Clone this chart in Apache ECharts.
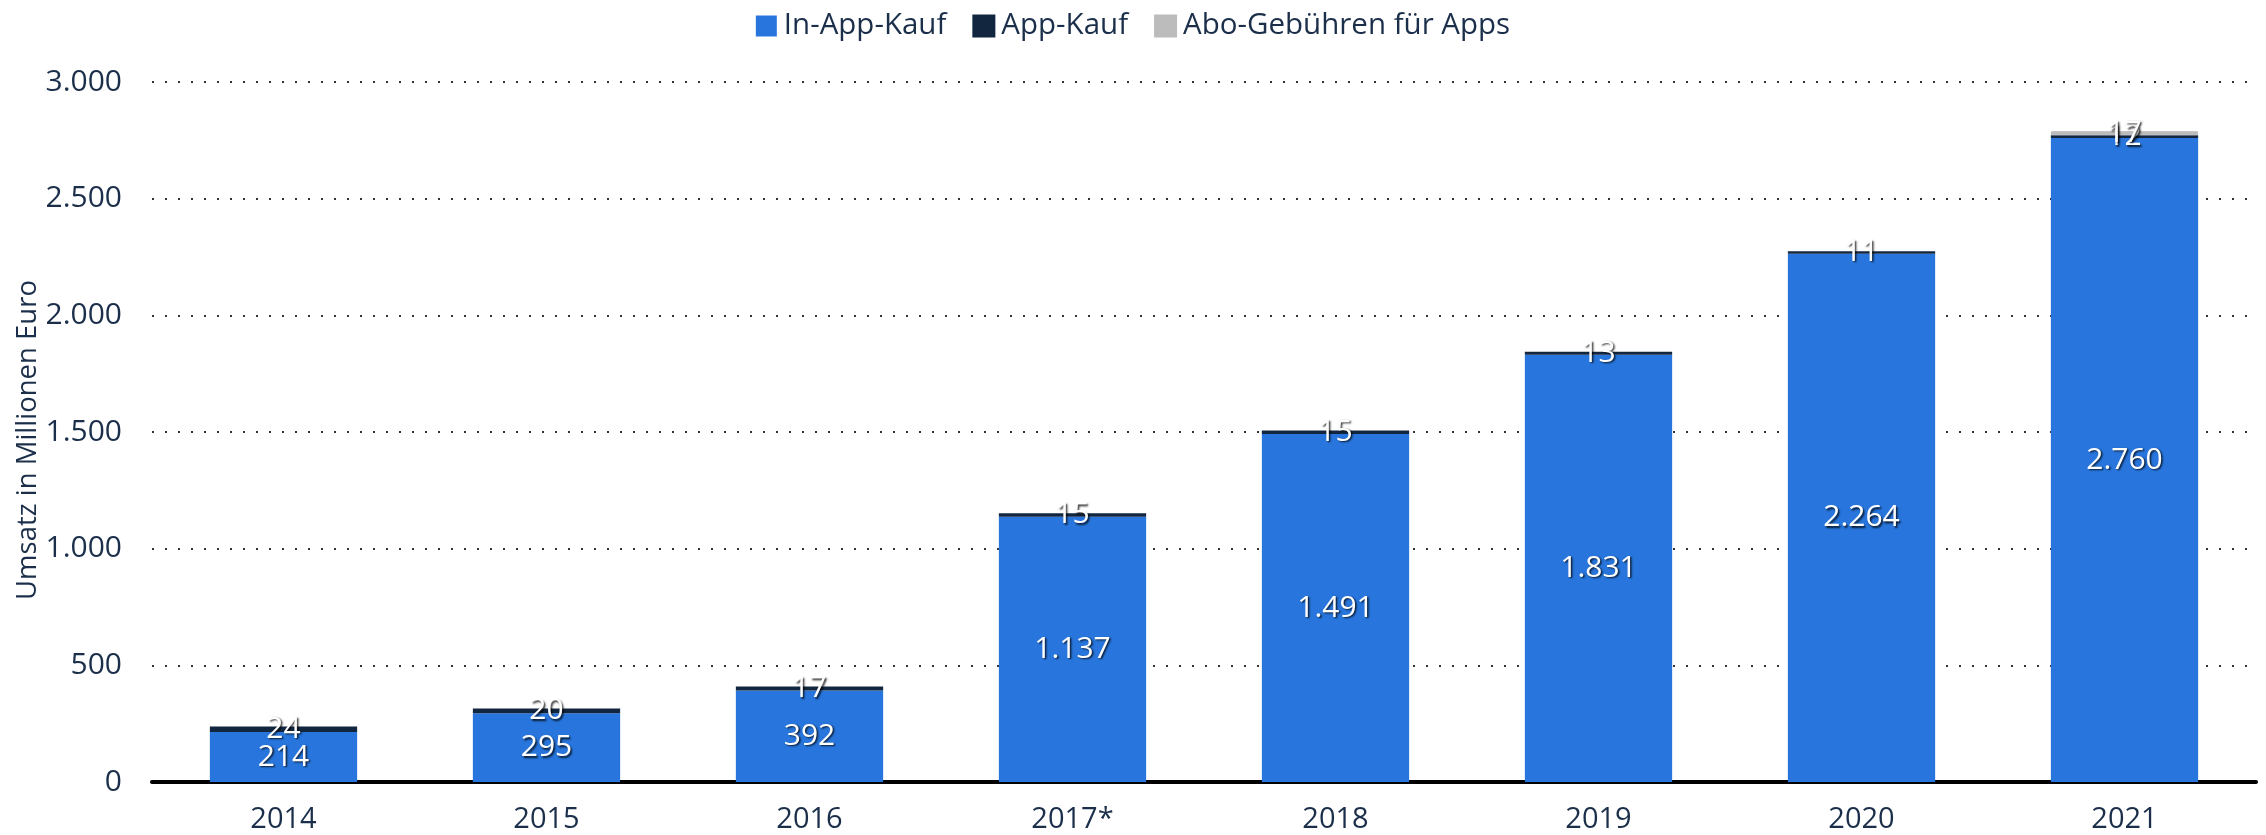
<!DOCTYPE html>
<html>
<head>
<meta charset="utf-8">
<script src="https://cdn.jsdelivr.net/npm/echarts@6/dist/echarts.min.js"></script>
<style>
  html, body { margin: 0; padding: 0; background: #fff; }
  #chart { width: 2266px; height: 835px; }
</style>
</head>
<body>
<div id="chart"></div>
<script>
// Umsatz mit Apps in Deutschland (Millionen Euro)
const years = ['2014', '2015', '2016', '2017*', '2018', '2019', '2020', '2021'];
const inAppKauf = [214, 295, 392, 1137, 1491, 1831, 2264, 2760];
const appKauf = [24, 20, 17, 15, 15, 13, 11, 12];
const aboGebuehren = [null, null, null, null, null, null, null, 17];
const yTicks = [0, 500, 1000, 1500, 2000, 2500, 3000];
const yTitle = 'Umsatz in Millionen Euro';

const textColor = '#1b2f4a';
const fontFamily = '"Open Sans", "Noto Sans", sans-serif';

function deNumber(v) {
  return String(v).replace(/\B(?=(\d{3})+(?!\d))/g, '.');
}

const labelStyle = {
  show: true,
  position: 'inside',
  color: '#fff',
  fontFamily: fontFamily,
  fontSize: 30,
  textShadowColor: 'rgba(0,0,0,0.8)',
  textShadowBlur: 2,
  textShadowOffsetX: 1.5,
  textShadowOffsetY: 1.5,
  formatter: p => (p.value == null ? '' : deNumber(p.value))
};

const chart = echarts.init(document.getElementById('chart'), null, { renderer: 'canvas' });
chart.setOption({
  animation: false,
  textStyle: { fontFamily: fontFamily },
  legend: {
    top: 6,
    left: 'center',
    icon: 'rect',
    itemWidth: 21,
    itemHeight: 21,
    itemGap: 26,
    textStyle: { color: textColor, fontSize: 29.5, fontFamily: fontFamily, padding: [0, 0, 0, 2] },
    data: ['In-App-Kauf', 'App-Kauf', 'Abo-Gebühren für Apps']
  },
  // vertical axis title, centred on the plot area
  graphic: [{
    type: 'text',
    x: 28,
    y: 440,
    rotation: Math.PI / 2,
    style: {
      text: yTitle,
      fill: textColor,
      font: '27.5px ' + fontFamily,
      align: 'center',
      verticalAlign: 'middle'
    }
  }],
  grid: { left: 152, right: 10, top: 82, bottom: 53 },
  xAxis: {
    type: 'category',
    data: years,
    axisLine: { show: true, lineStyle: { color: '#000', width: 4 } },
    axisTick: { show: false },
    axisLabel: { color: textColor, fontSize: 29, margin: 23 }
  },
  yAxis: {
    type: 'value',
    min: yTicks[0],
    max: yTicks[yTicks.length - 1],
    interval: 500,
    axisLine: { show: false },
    axisTick: { show: false },
    axisLabel: { color: textColor, fontSize: 30, margin: 30, formatter: v => deNumber(v) },
    splitLine: { show: true, lineStyle: { color: '#333', width: 2, type: [2, 11] } }
  },
  series: [
    {
      name: 'In-App-Kauf', type: 'bar', stack: 'umsatz', data: inAppKauf,
      barCategoryGap: '44%',
      itemStyle: { color: '#2876dd' },
      label: labelStyle
    },
    {
      name: 'App-Kauf', type: 'bar', stack: 'umsatz', data: appKauf,
      itemStyle: { color: '#12263f', borderColor: '#12263f', borderWidth: 2 },
      label: labelStyle
    },
    {
      name: 'Abo-Gebühren für Apps', type: 'bar', stack: 'umsatz', data: aboGebuehren,
      itemStyle: { color: '#bcbcbc', borderColor: '#bcbcbc', borderWidth: 1 },
      label: labelStyle
    }
  ]
});
</script>
</body>
</html>
